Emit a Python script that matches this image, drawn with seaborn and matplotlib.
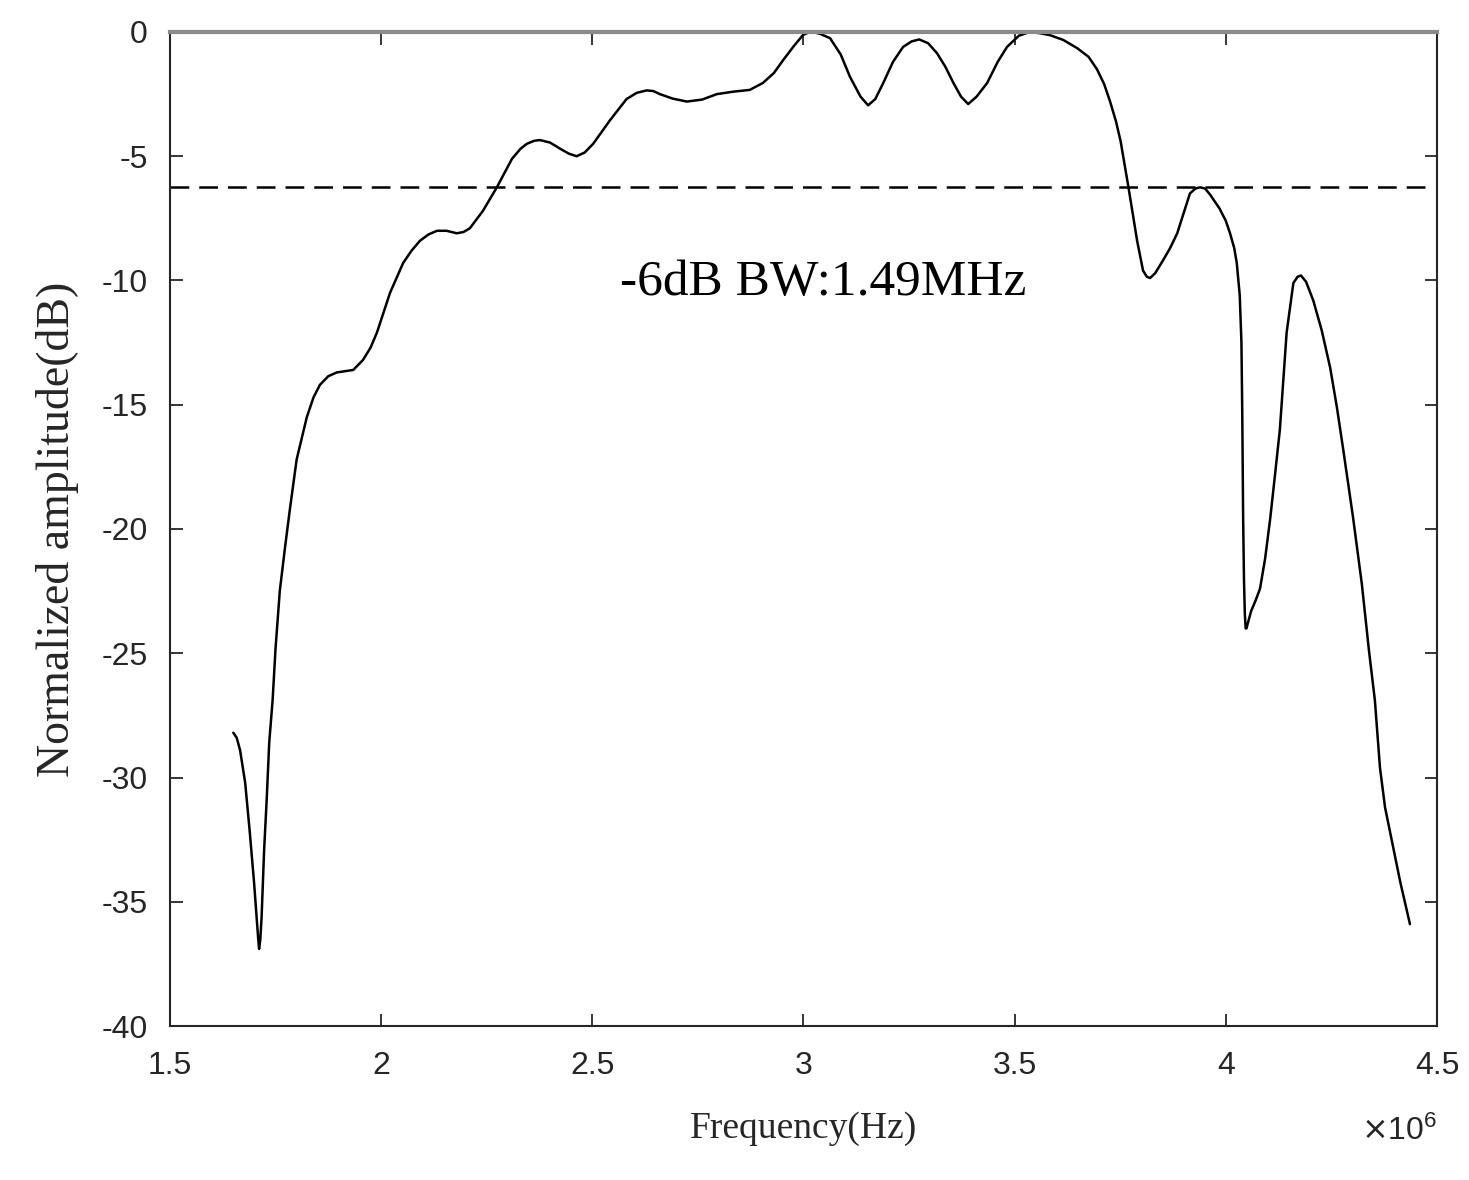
import numpy as np
import matplotlib
matplotlib.use('Agg')
import matplotlib.pyplot as plt
import seaborn as sns
from matplotlib.ticker import FuncFormatter

# frequency response (x in MHz, shown as x10^6 Hz)
freq_mhz = [1.650, 1.658, 1.666, 1.678, 1.689, 1.699, 1.705, 1.709, 1.711, 1.714,
            1.717, 1.723, 1.729, 1.735, 1.743, 1.750, 1.760, 1.772, 1.784, 1.800,
            1.824, 1.840, 1.855, 1.875, 1.895, 1.915, 1.934, 1.957, 1.975, 1.990,
            2.021, 2.052, 2.072, 2.092, 2.112, 2.132, 2.155, 2.179, 2.195, 2.210,
            2.241, 2.274, 2.310, 2.330, 2.345, 2.362, 2.376, 2.400, 2.424, 2.445,
            2.463, 2.482, 2.502, 2.542, 2.581, 2.605, 2.629, 2.645, 2.660, 2.690,
            2.724, 2.760, 2.795, 2.835, 2.873, 2.904, 2.930, 2.952, 2.978, 2.999,
            3.012, 3.023, 3.040, 3.063, 3.088, 3.110, 3.135, 3.153, 3.170, 3.189,
            3.212, 3.236, 3.256, 3.274, 3.295, 3.316, 3.336, 3.355, 3.373, 3.390,
            3.410, 3.435, 3.460, 3.482, 3.510, 3.536, 3.560, 3.584, 3.615, 3.648,
            3.675, 3.695, 3.712, 3.726, 3.740, 3.751, 3.770, 3.790, 3.804, 3.813,
            3.821, 3.833, 3.851, 3.868, 3.885, 3.900, 3.915, 3.928, 3.939, 3.951,
            3.963, 3.985, 4.000, 4.010, 4.020, 4.026, 4.033, 4.037, 4.039, 4.041,
            4.043, 4.045, 4.047, 4.049, 4.052, 4.060, 4.070, 4.081, 4.093, 4.105,
            4.116, 4.128, 4.144, 4.160, 4.170, 4.178, 4.190, 4.207, 4.227, 4.247,
            4.263, 4.278, 4.301, 4.322, 4.339, 4.353, 4.365, 4.377, 4.389, 4.413,
            4.436]
amp_db = [-28.2, -28.4, -28.9, -30.2, -32.2, -34.2, -35.6, -36.5, -36.9, -36.5,
          -35.6, -32.9, -30.9, -28.6, -26.9, -24.8, -22.5, -20.8, -19.2, -17.2,
          -15.5, -14.7, -14.2, -13.85, -13.7, -13.65, -13.6, -13.2, -12.7, -12.1,
          -10.5, -9.3, -8.8, -8.4, -8.15, -8.0, -8.0, -8.1, -8.05, -7.9,
          -7.2, -6.25, -5.1, -4.7, -4.5, -4.38, -4.35, -4.45, -4.7, -4.9,
          -5.0, -4.85, -4.5, -3.55, -2.7, -2.45, -2.35, -2.38, -2.5, -2.68,
          -2.8, -2.72, -2.5, -2.4, -2.33, -2.05, -1.65, -1.13, -0.55, -0.12,
          -0.02, 0.0, -0.08, -0.25, -0.9, -1.8, -2.6, -2.95, -2.7, -2.05,
          -1.2, -0.6, -0.38, -0.3, -0.45, -0.85, -1.4, -2.05, -2.6, -2.9,
          -2.6, -2.05, -1.2, -0.6, -0.15, 0.0, -0.05, -0.13, -0.32, -0.65,
          -1.0, -1.5, -2.1, -2.8, -3.6, -4.4, -6.3, -8.4, -9.6, -9.85,
          -9.9, -9.7, -9.2, -8.7, -8.1, -7.3, -6.5, -6.3, -6.25, -6.3,
          -6.55, -7.1, -7.6, -8.1, -8.7, -9.3, -10.6, -12.5, -15.4, -19.5,
          -22.0, -23.4, -24.0, -24.0, -23.8, -23.3, -22.9, -22.4, -21.2, -19.6,
          -17.9, -16.0, -12.1, -10.1, -9.85, -9.8, -10.05, -10.8, -12.0, -13.5,
          -15.1, -16.8, -19.5, -22.2, -24.9, -26.9, -29.6, -31.2, -32.2, -34.2,
          -35.9]

bw_level_db = -6.25
bw_span_mhz = [1.5, 4.48]
bw_label = '-6dB BW:1.49MHz'
bw_label_pos = (2.566, -10.6)

x_ticks = [1.5, 2, 2.5, 3, 3.5, 4, 4.5]
y_ticks = [0, -5, -10, -15, -20, -25, -30, -35, -40]

sns.set_style('ticks')
plt.rcParams['font.family'] = ['Liberation Sans', 'DejaVu Sans']
plt.rcParams['axes.unicode_minus'] = False

fig = plt.figure(figsize=(14.69, 11.80), dpi=100)
ax = fig.add_axes([0.1157, 0.1305, 0.8625, 0.8424])

sns.lineplot(x=freq_mhz, y=amp_db, ax=ax, color='black', linewidth=1.8,
             estimator=None, sort=False)
ax.plot(bw_span_mhz, [bw_level_db, bw_level_db], color='black', lw=1.8,
        dashes=(7.5, 4))

ax.text(bw_label_pos[0], bw_label_pos[1], bw_label, fontsize=37,
        family='Liberation Serif', va='baseline', ha='left', color='black')

ax.set_xlim(1.5, 4.5)
ax.set_ylim(-40, 0)
ax.set_xticks(x_ticks)
ax.set_yticks(y_ticks)
ax.xaxis.set_major_formatter(FuncFormatter(lambda v, p: f'{v:g}'))

ax.tick_params(direction='in', length=9, width=1.3, top=True, right=True,
               color='#262626', labelcolor='#262626')
ax.tick_params(axis='x', labelsize=23, pad=18)
ax.tick_params(axis='y', labelsize=23, pad=16)
for t in ax.xaxis.get_major_ticks():
    t.tick2line.set_color('#8a8a8a')
for t in ax.yaxis.get_major_ticks():
    t.tick1line.set_color('#8a8a8a')
    t.tick2line.set_color('black')

for side in ['left', 'bottom', 'right']:
    ax.spines[side].set_color('#262626')
    ax.spines[side].set_linewidth(1.5)
ax.spines['top'].set_color('#8a8a8a')
ax.spines['top'].set_linewidth(3)

ax.set_xlabel('Frequency(Hz)', fontsize=27, family='Liberation Serif',
              color='#262626', labelpad=22)
ax.set_ylabel('Normalized amplitude(dB)', fontsize=33, family='Liberation Serif',
              color='#262626', labelpad=16)
ax.text(1.0, -0.115, r'$\times\mathregular{10^{6}}$', transform=ax.transAxes,
        ha='right', va='baseline', fontsize=23, color='#262626')

fig.savefig('out.png', dpi=100)
